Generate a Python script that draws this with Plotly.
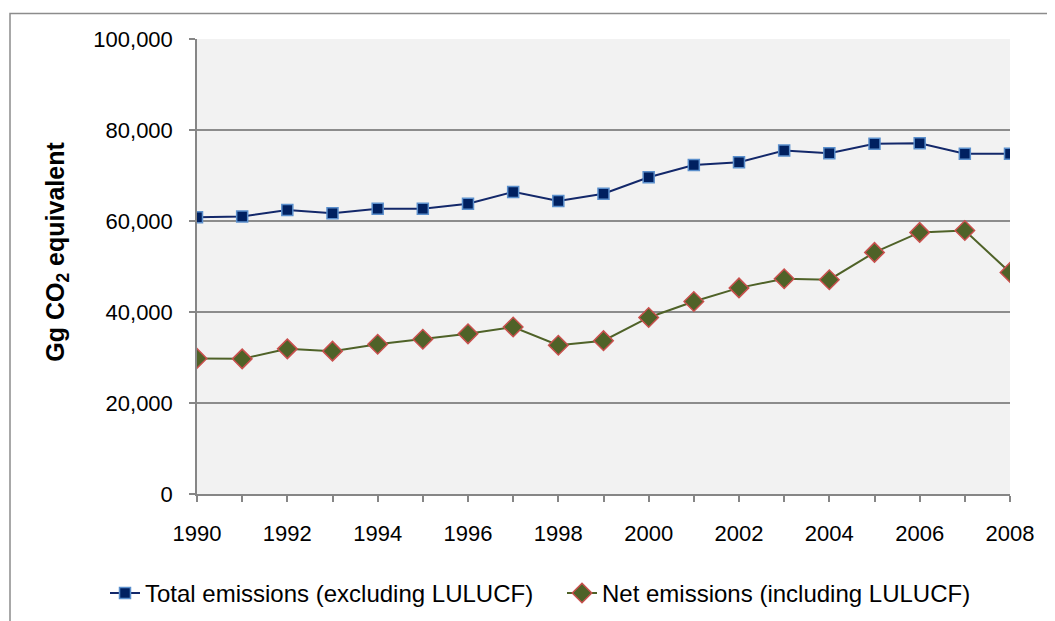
import plotly.graph_objects as go

years = list(range(1990, 2009))
total_excl_lulucf = [60800, 61000, 62400, 61700, 62700, 62700, 63800, 66400, 64400, 66000,
                     69600, 72300, 72900, 75500, 74900, 77000, 77100, 74800, 74800]
net_incl_lulucf = [29800, 29700, 31900, 31400, 32900, 34000, 35200, 36700, 32700, 33700,
                   38800, 42300, 45300, 47300, 47100, 53100, 57500, 57900, 48700]
x_tick_vals = list(range(1990, 2009, 2))
y_tick_vals = [0, 20000, 40000, 60000, 80000, 100000]
y_tick_text = ["0", "20,000", "40,000", "60,000", "80,000", "100,000"]

W, H = 1055, 621
OFF = 8  # page body margin offset
L, R, T, B = 197 - OFF, 1010 - OFF, 39 - OFF, 494.5 - OFF
FS = 22
pw = R - L
ph = B - T


def px_x(x):
    return (x - OFF - L) / pw


def px_y(y):
    return (B - (y - OFF)) / ph


fig = go.Figure()
fig.add_trace(go.Scatter(
    x=years, y=total_excl_lulucf, mode="lines+markers",
    name="Total emissions (excluding LULUCF)", legend="legend",
    line=dict(color="#13286A", width=2),
    marker=dict(symbol="square", size=11, color="#002060",
                line=dict(color="#5B8FCC", width=1.5)),
))
fig.add_trace(go.Scatter(
    x=years, y=net_incl_lulucf, mode="lines+markers",
    name="Net emissions (including LULUCF)", legend="legend2",
    line=dict(color="#4F6228", width=2),
    marker=dict(symbol="diamond", size=15, color="#4F6228",
                line=dict(color="#C9504E", width=1.5)),
))

fig.add_shape(type="rect", xref="paper", yref="paper",
              x0=px_x(10), x1=px_x(1300),
              y0=px_y(900), y1=px_y(13.5),
              line=dict(color="#8C8C8C", width=1.5), fillcolor="rgba(0,0,0,0)", layer="below")

fig.add_annotation(text="<b>Gg CO<sub>2</sub> equivalent</b>", textangle=-90,
                   xref="paper", yref="paper",
                   x=px_x(57), y=px_y(252),
                   xanchor="center", yanchor="middle", showarrow=False,
                   font=dict(size=25, color="#000000"))

leg_common = dict(orientation="h", xanchor="left", yanchor="middle",
                  font=dict(size=24), bgcolor="rgba(0,0,0,0)", borderwidth=0)

fig.update_layout(
    width=W, height=H,
    margin=dict(l=L, r=W - R, t=T, b=H - B, pad=0, autoexpand=False),
    paper_bgcolor="white", plot_bgcolor="#F2F2F2",
    font=dict(family="Liberation Sans, Arial, sans-serif", size=FS, color="#000000"),
    showlegend=True,
    legend=dict(x=px_x(105), y=px_y(594), **leg_common),
    legend2=dict(x=px_x(562), y=px_y(594), **leg_common),
    xaxis=dict(range=[1990, 2008], tickvals=x_tick_vals, ticktext=[str(v) for v in x_tick_vals],
               showgrid=False, zeroline=False, showline=True, linecolor="#868686", linewidth=1.5,
               ticks="outside", ticklen=6, tickcolor="#868686", tickwidth=1.5,
               minor=dict(dtick=1, ticks="outside", ticklen=6, tickcolor="#868686", tickwidth=1.5),
               ticklabelstandoff=13, tickfont=dict(size=FS)),
    yaxis=dict(range=[0, 100000], tickvals=y_tick_vals, ticktext=y_tick_text,
               showgrid=True, gridcolor="#8C8C8C", gridwidth=1.5, zeroline=False,
               showline=True, linecolor="#868686", linewidth=1.5,
               ticks="outside", ticklen=6, tickcolor="#868686", tickwidth=1.5,
               ticklabelstandoff=12, tickfont=dict(size=FS)),
)

fig.write_html("out.html")
